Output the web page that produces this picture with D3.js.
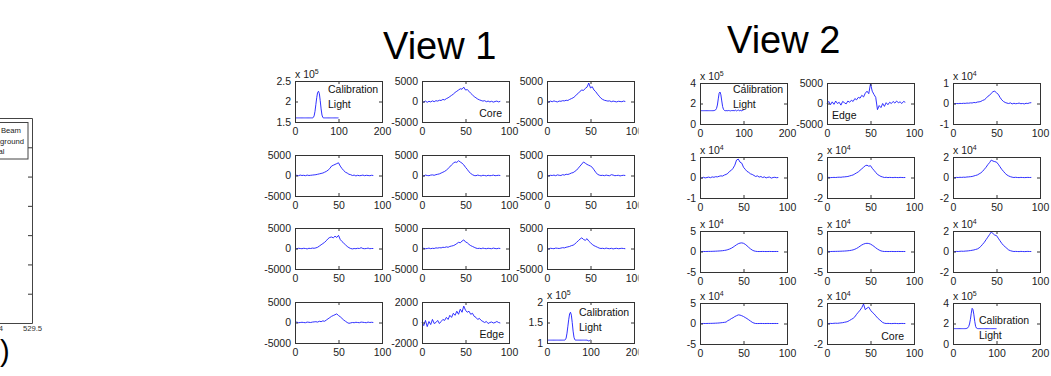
<!DOCTYPE html>
<html>
<head>
<meta charset="utf-8">
<script src="https://cdn.jsdelivr.net/npm/d3@7"></script>
<style>
body { margin: 0; background: #fff; }
svg { display: block; }
text { font-family: "Liberation Sans", Arial, sans-serif; }
</style>
</head>
<body>
<svg id="fig" width="1051" height="376"></svg>
<script>
// sample positions
var xSig = [0,2,4,6,8,10,12,14,16,18,20,22,24,26,28,30,32,34,36,38,40,42,44,46,48,50,52,54,56,58,60,62,64,66,68,70,72,74,76,78,80,82,84,86,88,90];
var xCal = [0,2,4,6,8,10,12,14,16,18,20,22,24,26,28,30,32,34,36,38,40,42,44,46,48,50,52,54,56,58,60,62,64,66,68,70,72,74,76,78,80,82,84,86,88,90,92,94,96,98,100];

// View 1
var v1Cal1 = [160000,160000,160000,160000,160000,160000,160000,160000,160000,160000,160000,160000,160000,160000,160000,160000,160000,160000,160000,160000,160000,
  161000,165000,176000,193000,210000,222000,225000,219000,202000,182000,167000,161000,
  160000,160000,160000,160000,160000,160000,160000,160000,160000,160000,160000,160000,160000,160000,160000,160000,160000,160000];
var v1Core = [0,-150,100,-200,50,-100,150,-50,200,100, 300,250,500,400,700,900,1200,1500,1800,2200, 2500,2800,3100,3000,3500,2800,2900,2500,2000,1600, 1200,900,600,400,250,100,200,-50,100,-100, 50,-150,0,100,-100,50];
var v1R1C3 = [0,-100,100,-50,150,0,-100,100,50,200, 150,300,250,500,700,900,1200,1700,2000,2500, 2800,2700,3200,3500,4500,3300,3600,2800,2400,1800, 1300,800,500,300,200,100,150,-50,100,0, -100,50,0,-50,100,0];
var v1R2C1 = [0,50,-50,100,0,50,-50,100,0,50, 100,150,200,300,400,500,600,800,1000,1300, 1700,2300,2500,2700,2900,3100,2300,1700,1200,800, 600,300,200,0,100,-100,50,-50,0,100, -50,50,0,-50,50,0];
var v1R2C2 = [0,-100,100,0,-50,100,150,50,200,300, 400,600,800,1000,1300,1700,2100,2600,3000,3300, 3200,3600,3300,3000,2600,2000,1500,900,500,200, 0,-50,100,0,-100,50,0,-100,50,-50, 0,100,-50,0,50,0];
var v1R2C3 = [0,-50,50,0,100,-50,150,50,0,200, 100,300,250,400,600,700,1000,1300,1800,2300, 2800,3300,3000,2700,2500,2300,2000,1400,800,300, 100,0,50,-50,100,0,-50,200,100,-50, 0,50,-100,0,50,0];
var v1R3C1 = [0,-50,50,0,-50,50,0,-100,50,0, 100,50,150,300,600,900,1200,1500,1900,2400, 2700,2800,2600,3000,2700,3200,2200,1700,1300,900, 500,200,0,-100,0,-50,50,0,200,0, -50,0,100,-50,0,0];
var v1R3C2 = [0,50,-50,0,100,-50,50,0,150,100, 200,150,300,250,400,300,500,600,700,900, 1200,1500,1400,1800,2100,1600,1400,1000,700,500, 300,100,0,50,-50,100,0,-50,50,0, -50,100,0,-50,50,0];
var v1R3C3 = [0,-100,50,0,-50,100,50,0,100,200, 150,300,400,500,700,800,1100,1500,1900,2300, 2600,2200,2000,2400,1800,1400,1000,700,500,300, 100,0,50,-50,100,0,-50,50,-100,0, 50,-50,0,50,0,-50];
var v1R4C1 = [0,100,-50,0,50,0,-50,100,50,0, 100,150,200,100,300,200,400,300,600,900, 1200,1500,1700,1900,2100,1700,1400,1000,600,300, 0,-200,-100,0,-50,50,0,-50,100,50, 0,-50,100,0,50,0];
var v1Edge = [0,-300,200,-400,100,-200,300,-100,0,200, -100,100,300,200,500,300,700,500,900,700, 1100,800,1300,1000,1600,1200,1000,1100,800,900, 600,500,300,400,200,100,0,100,-100,0, 50,-50,0,100,0,-50];
var v1Cal2 = [107000,107000,107000,107000,107000,107000,107000,107000,107000,107000,107000,107000,107000,107000,107000,107000,107000,107000,107000,107000,107000,
  108000,112000,124000,141000,158000,171000,175000,168000,150000,129000,114000,108000,
  107000,107000,107000,107000,107000,107000,107000,107000,107000,107000,107000,107000,107000,107000,106000,105000,106000,108000];

// View 2
var v2Cal1 = [130000,130000,130000,130000,130000,130000,130000,130000,130000,130000,130000,130000,130000,130000,130000,130000,
  131000,133000,138000,152000,185000,245000,300000,312000,285000,225000,170000,142000,133000,130000,
  130000,131000,129000,132000,130000,128000,131000,130000,133000,129000,131000,135000,128000,132000,137000,129000,131000,134000,128000,133000,136000];
var v2Edge = [0,500,-300,400,-200,600,0,300,-400,500, 200,-100,600,300,800,500,1200,900,1500,1300, 2000,1600,2500,3000,2400,4800,3000,2200,1500,-1500, -500,-1000,0,-700,200,-300,300,0,500,100, 600,200,400,0,500,300];
var v2R1C3 = [0,-100,0,-50,50,0,100,50,200,150, 300,250,500,400,700,800,1000,1500,1800,2500, 3500,4000,5000,5800,6000,5200,4500,3000,1800,1000, 500,200,0,300,-200,100,-100,0,200,-100, 0,-200,100,0,300,400];
var v2R2C1 = [0,-300,100,-200,0,200,-100,300,100,400, 300,600,800,700,1200,1500,2000,3000,3500,4500, 6000,8500,9000,7500,7000,5000,4000,3000,2500,1800, 1500,1000,500,800,200,500,0,300,-200,100, 200,-300,0,100,-100,0];
var v2R2C2 = [0,100,-100,0,100,0,200,300,200,500, 600,800,1000,1500,2000,2500,3500,4500,5500,7000, 8500,10000,11500,12000,11000,11500,9000,7000,5000,3000, 2000,1000,500,0,200,-100,100,0,-100,100, 0,-100,100,0,-50,0];
var v2R2C3 = [0,-100,100,0,200,100,300,200,500,600, 800,1000,1500,2000,2500,3500,4500,6000,8000,10000, 12500,14500,17000,16000,15500,15000,13000,10500,8000,6000, 4000,2500,1500,800,300,0,200,0,-100,100, 0,-100,0,100,0,50];
var v2R3C1 = [0,0,100,0,100,200,300,400,600,800, 1000,1300,1600,2000,2600,3300,4500,6000,8000,10500, 13500,16500,19000,20500,21000,20000,17500,14000,10000,6500, 3500,1500,500,0,-100,0,100,0,-100,0, 100,0,-50,0,50,0];
var v2R3C2 = [0,100,0,100,200,300,400,500,700,900, 1100,1400,1800,2300,3000,4000,5500,7500,10000,13000, 16000,18000,19500,20000,19500,18000,15500,12500,9000,6000, 3500,1500,500,0,100,-100,0,100,0,-100, 0,100,0,-50,0,0];
var v2R3C3 = [0,-100,100,0,200,300,200,400,500,700, 900,1200,1500,2000,2500,3500,5000,7000,9000,11500, 14000,16500,19000,17500,16000,15500,13000,10500,8000,6000, 4500,3000,1500,800,300,0,100,0,-100,100, 0,-100,0,100,0,0];
var v2R4C1 = [0,0,100,0,100,200,300,400,600,800, 1000,1300,1800,2300,2800,3500,7000,9000,12000,14000, 17000,19000,21000,20500,19000,17000,14500,12000,9000,6000, 3000,1000,0,-100,0,100,0,-100,0,100, 0,-50,0,50,0,0];
var v2Core = [0,0,100,0,200,300,200,400,600,800, 1200,1500,2000,3000,4000,5000,6500,9000,11000,13000, 15500,19000,13500,15000,16000,13000,11000,9500,7500,5500, 4000,2500,1000,300,0,100,0,-100,0,100, 0,-100,0,50,0,0];
var v2Cal2 = [150000,150000,150000,150000,150000,150000,150000,150000,150000,150000,150000,150000,150000,150000,150000,
  151000,153000,158000,170000,195000,240000,300000,348000,335000,285000,220000,172000,155000,151000,
  150000,150000,150000,150000,150000,150000,150000,150000,150000,150000,150000,150000,150000,150000,150000,150000,150000,150000,150000,150000,150000,150000];

var sigAx = [0, 100];
var calAx = [0, 200];

var panels = [
  {v:1, r:0, c:0, x:xCal, y:v1Cal1, xd:calAx, yd:[150000,250000], exp:5, notes:[["Calibration",33,12,"start"],["Light",33,26.5,"start"]]},
  {v:1, r:0, c:1, x:xSig, y:v1Core, xd:sigAx, yd:[-5000,5000], notes:[["Core",80,36,"end"]]},
  {v:1, r:0, c:2, x:xSig, y:v1R1C3, xd:sigAx, yd:[-5000,5000]},
  {v:1, r:1, c:0, x:xSig, y:v1R2C1, xd:sigAx, yd:[-5000,5000]},
  {v:1, r:1, c:1, x:xSig, y:v1R2C2, xd:sigAx, yd:[-5000,5000]},
  {v:1, r:1, c:2, x:xSig, y:v1R2C3, xd:sigAx, yd:[-5000,5000]},
  {v:1, r:2, c:0, x:xSig, y:v1R3C1, xd:sigAx, yd:[-5000,5000]},
  {v:1, r:2, c:1, x:xSig, y:v1R3C2, xd:sigAx, yd:[-5000,5000]},
  {v:1, r:2, c:2, x:xSig, y:v1R3C3, xd:sigAx, yd:[-5000,5000]},
  {v:1, r:3, c:0, x:xSig, y:v1R4C1, xd:sigAx, yd:[-5000,5000]},
  {v:1, r:3, c:1, x:xSig, y:v1Edge, xd:sigAx, yd:[-2000,2000], notes:[["Edge",82,36,"end"]]},
  {v:1, r:3, c:2, x:xCal, y:v1Cal2, xd:calAx, yd:[100000,200000], exp:5, notes:[["Calibration",32,14,"start"],["Light",32,29,"start"]]},
  {v:2, r:0, c:0, x:xCal, y:v2Cal1, xd:calAx, yd:[0,400000], exp:5, notes:[["Calibration",33,10,"start"],["Light",33,25,"start"]]},
  {v:2, r:0, c:1, x:xSig, y:v2Edge, xd:sigAx, yd:[-5000,5000], notes:[["Edge",5,36,"start"]]},
  {v:2, r:0, c:2, x:xSig, y:v2R1C3, xd:sigAx, yd:[-10000,10000], exp:4},
  {v:2, r:1, c:0, x:xSig, y:v2R2C1, xd:sigAx, yd:[-10000,10000], exp:4},
  {v:2, r:1, c:1, x:xSig, y:v2R2C2, xd:sigAx, yd:[-20000,20000], exp:4},
  {v:2, r:1, c:2, x:xSig, y:v2R2C3, xd:sigAx, yd:[-20000,20000], exp:4},
  {v:2, r:2, c:0, x:xSig, y:v2R3C1, xd:sigAx, yd:[-50000,50000], exp:4},
  {v:2, r:2, c:1, x:xSig, y:v2R3C2, xd:sigAx, yd:[-50000,50000], exp:4},
  {v:2, r:2, c:2, x:xSig, y:v2R3C3, xd:sigAx, yd:[-20000,20000], exp:4},
  {v:2, r:3, c:0, x:xSig, y:v2R4C1, xd:sigAx, yd:[-50000,50000], exp:4},
  {v:2, r:3, c:1, x:xSig, y:v2Core, xd:sigAx, yd:[-20000,20000], exp:4, notes:[["Core",77,37,"end"]]},
  {v:2, r:3, c:2, x:xCal, y:v2Cal2, xd:calAx, yd:[0,400000], exp:5, notes:[["Calibration",26,21,"start"],["Light",26,36,"start"]]}
];

var layout = {
  1: {cols:[295,422,547], rows:[81,155,228,302]},
  2: {cols:[700,827,953], rows:[83,157,231,303]}
};
var W = 87, H = 41;
var FS = 10.5;

var svg = d3.select("#fig");
svg.append("defs").append("clipPath").attr("id","cut1")
  .append("rect").attr("x",240).attr("y",0).attr("width",398.5).attr("height",376);

var g1 = svg.append("g").attr("clip-path","url(#cut1)");
var g2 = svg.append("g");

function lab(v, exp) {
  if (exp) v = v / Math.pow(10, exp);
  return String(v);
}

function style(ax) {
  ax.select(".domain").remove();
  ax.selectAll("line").attr("stroke","#333");
  ax.selectAll("text").attr("font-size",FS).attr("fill","#222")
    .attr("font-family",'"Liberation Sans", Arial, sans-serif');
}

panels.forEach(function(p){
  var L = layout[p.v];
  var g = (p.v == 1 ? g1 : g2).append("g")
    .attr("transform","translate(" + L.cols[p.c] + "," + L.rows[p.r] + ")");
  var xs = d3.scaleLinear().domain(p.xd).range([0, W]);
  var ys = d3.scaleLinear().domain(p.yd).range([H, 0]);
  var xt = [p.xd[0], (p.xd[0] + p.xd[1]) / 2, p.xd[1]];
  var yt = [p.yd[0], (p.yd[0] + p.yd[1]) / 2, p.yd[1]];

  g.append("path")
    .datum(d3.zip(p.x, p.y))
    .attr("fill","none").attr("stroke","#1a1aff").attr("stroke-width",0.9)
    .attr("d", d3.line().x(function(d){return xs(d[0]);}).y(function(d){return ys(d[1]);}));

  style(g.append("g").attr("transform","translate(0," + H + ")")
    .call(d3.axisBottom(xs).tickValues(xt).tickSizeInner(-3).tickSizeOuter(0).tickPadding(5.5)
      .tickFormat(function(v){return String(v);})));
  style(g.append("g")
    .call(d3.axisLeft(ys).tickValues(yt).tickSizeInner(-3).tickSizeOuter(0).tickPadding(4)
      .tickFormat(function(v){return lab(v, p.exp);})));
  style(g.append("g")
    .call(d3.axisTop(xs).tickValues(xt).tickSizeInner(-3).tickSizeOuter(0).tickFormat("")));
  style(g.append("g").attr("transform","translate(" + W + ",0)")
    .call(d3.axisRight(ys).tickValues(yt).tickSizeInner(-3).tickSizeOuter(0).tickFormat("")));

  g.append("rect").attr("x",0.5).attr("y",0.5).attr("width",W).attr("height",H)
    .attr("fill","none").attr("stroke","#333").attr("stroke-width",1);

  if (p.exp) {
    var t = g.append("text").attr("x",0).attr("y",-3).attr("font-size",FS).attr("fill","#222").text("x 10");
    t.append("tspan").attr("dy",-4.5).attr("font-size",7).text(p.exp);
  }
  (p.notes || []).forEach(function(n){
    g.append("text").attr("x",n[1]).attr("y",n[2]).attr("text-anchor",n[3])
      .attr("font-size",FS).attr("fill","#111").text(n[0]);
  });
});

// titles
g1.append("text").attr("x",383).attr("y",59).attr("font-size",38).attr("fill","#000").text("View 1");
g2.append("text").attr("x",727).attr("y",53).attr("font-size",38).attr("fill","#000").text("View 2");

// cropped plot at the left edge
var lg = svg.append("g");
var lx = d3.scaleLinear().domain([529.4, 529.5]).range([-7, 32]);
var ly = d3.scaleLinear().domain([0, 7]).range([323, 118]);
style(lg.append("g").attr("transform","translate(32,0)")
  .call(d3.axisRight(ly).tickValues([1,2,3,4,5,6]).tickSizeInner(-4).tickSizeOuter(0).tickFormat("")));
style(lg.append("g").attr("transform","translate(0,323)")
  .call(d3.axisBottom(lx).tickValues([529.4, 529.5]).tickSizeInner(-4).tickSizeOuter(0).tickPadding(3)
    .tickFormat(function(v){return v.toFixed(1);})));
lg.selectAll("text").attr("font-size",7.7).attr("fill","#333");
lg.append("path").attr("d","M-2,118.5H32.5V323.5H-2").attr("fill","none").attr("stroke","#444");
lg.append("rect").attr("x",-40).attr("y",122.5).attr("width",68).attr("height",36.5)
  .attr("fill","#fff").attr("stroke","#444");
var legendNames = ["Xray Beam", "Background", "Signal"];
lg.selectAll(".lt").data(legendNames).enter().append("text")
  .attr("x",-17).attr("y",function(d,i){return 133 + i * 10.5;})
  .attr("font-size",7.7).attr("fill","#222").text(function(d){return d;});
lg.append("text").attr("x",0).attr("y",361).attr("font-size",29).attr("fill","#000").text(")");
</script>
</body>
</html>
